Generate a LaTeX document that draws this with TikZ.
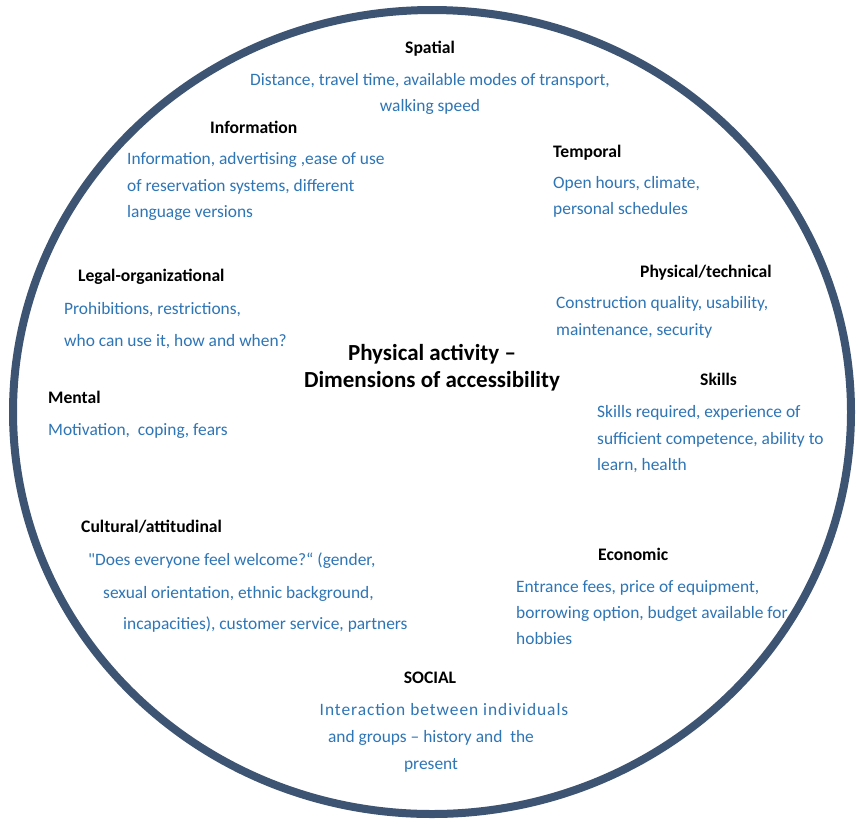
\documentclass[tikz,border=0pt]{standalone}
\usepackage{fontspec}
\setmainfont{Carlito}
\definecolor{ringc}{HTML}{3D5473}
\definecolor{descc}{HTML}{2E75B6}
\begin{document}
\begin{tikzpicture}[x=1pt,y=-1pt,
  ttl/.style={font=\fontsize{17.6}{21}\selectfont\bfseries, text=black, inner sep=0pt},
  dsc/.style={font=\fontsize{17.4}{21}\selectfont, text=descc, inner sep=0pt},
  ctr/.style={font=\fontsize{23}{27}\selectfont\bfseries, text=black, inner sep=0pt}]
\useasboundingbox (0,0) rectangle (859,823);
\fill[white] (0,0) rectangle (859,823);
\draw[ringc, line width=8pt] (432,412) ellipse [x radius=419, y radius=402];
\begin{scope}[shift={(0,3.5)}]
% centre
\node[ctr, anchor=mid] (c1) at (432,355) {Physical activity –};
\node[ctr, anchor=mid] (c2) at (432,382) {Dimensions of accessibility};
% Spatial
\node[ttl, anchor=mid] (spt) at (430,48) {Spatial};
\node[dsc, anchor=mid] (sp1) at (430,80) {Distance, travel time, available modes of transport,};
\node[dsc, anchor=mid] (sp2) at (430,106) {walking speed};
% Information
\node[ttl, anchor=mid west] (int) at (210,128) {Information};
\node[dsc, anchor=mid west] (in1) at (127,159) {Information, advertising ,ease of use};
\node[dsc, anchor=mid west] (in2) at (127,186) {of reservation systems, different};
\node[dsc, anchor=mid west] (in3) at (127,212) {language versions};
% Temporal
\node[ttl, anchor=mid west] (tet) at (553,152) {Temporal};
\node[dsc, anchor=mid west] (te1) at (553,183) {Open hours, climate,};
\node[dsc, anchor=mid west] (te2) at (553,209) {personal schedules};
% Legal-organizational
\node[ttl, anchor=mid west] (lgt) at (78,276) {Legal-organizational};
\node[dsc, anchor=mid west] (lg1) at (64,309) {Prohibitions, restrictions,};
\node[dsc, anchor=mid west] (lg2) at (64,341) {who can use it, how and when?};
% Physical/technical
\node[ttl, anchor=mid west] (pht) at (640,272) {Physical/technical};
\node[dsc, anchor=mid west] (ph1) at (556,303) {Construction quality, usability,};
\node[dsc, anchor=mid west] (ph2) at (556,330) {maintenance, security};
% Skills
\node[ttl, anchor=mid west] (skt) at (700,380) {Skills};
\node[dsc, anchor=mid west] (sk1) at (597,412) {Skills required, experience of};
\node[dsc, anchor=mid west] (sk2) at (597,439) {sufficient competence, ability to};
\node[dsc, anchor=mid west] (sk3) at (597,465) {learn, health};
% Mental
\node[ttl, anchor=mid west] (mnt) at (48,398) {Mental};
\node[dsc, anchor=mid west] (mn1) at (48,430) {Motivation,\ \ coping, fears};
% Cultural/attitudinal
\node[ttl, anchor=mid west] (cut) at (81,527) {Cultural/attitudinal};
\node[dsc, anchor=mid west] (cu1) at (88,560) {{\addfontfeature{Ligatures=TeXOff}"}Does everyone feel welcome?“ (gender,};
\node[dsc, anchor=mid west] (cu2) at (103,593) {sexual orientation, ethnic background,};
\node[dsc, anchor=mid west] (cu3) at (123,624) {incapacities), customer service, partners};
% Economic
\node[ttl, anchor=mid west] (ect) at (598,555) {Economic};
\node[dsc, anchor=mid west] (ec1) at (516,587) {Entrance fees, price of equipment,};
\node[dsc, anchor=mid west] (ec2) at (516,613) {borrowing option, budget available for};
\node[dsc, anchor=mid west] (ec3) at (516,639) {hobbies};
% Social
\node[ttl, anchor=mid] (sot) at (430,678) {SOCIAL};
\node[dsc, anchor=mid] (so1) at (444,710) {\addfontfeature{LetterSpace=5.5}Interaction between individuals};
\node[dsc, anchor=mid] (so2) at (431,737) {and groups – history and\ \ the};
\node[dsc, anchor=mid] (so3) at (431,764) {present};
\end{scope}
\end{tikzpicture}
\end{document}
